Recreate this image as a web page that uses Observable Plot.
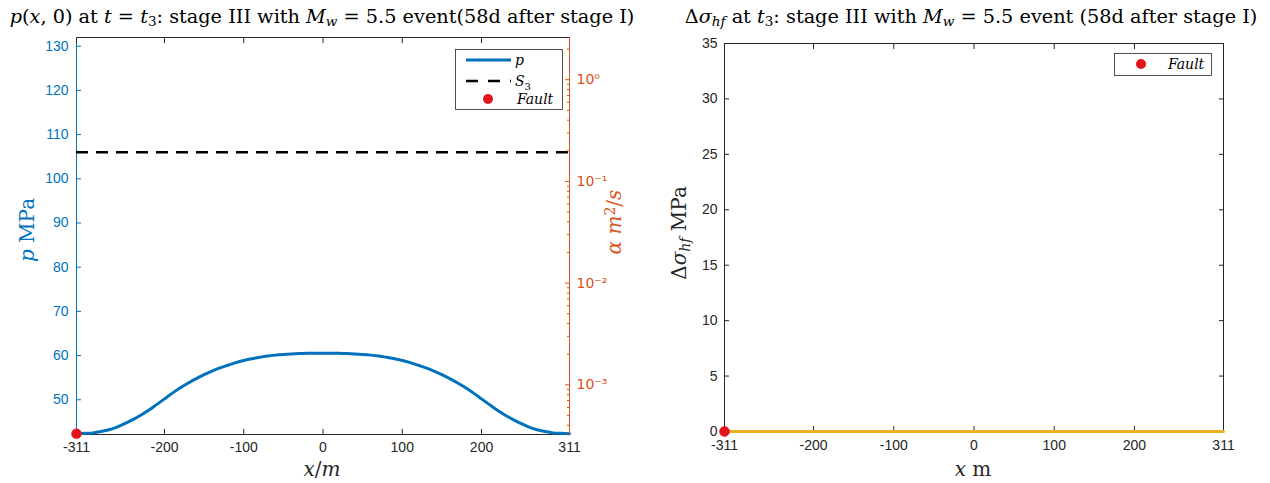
<!DOCTYPE html>
<html>
<head>
<meta charset="utf-8">
<script src="https://cdn.jsdelivr.net/npm/d3@7"></script>
<script src="https://cdn.jsdelivr.net/npm/@observablehq/plot@0.6"></script>
<style>
  html, body { margin: 0; padding: 0; background: #fff; }
  #wrap { position: relative; width: 1270px; height: 483px; overflow: hidden; background: #fff; }
  .abs { position: absolute; }
  .ttl { font-family: "DejaVu Serif", serif; font-size: 19.3px; line-height: 19px; color: #000; white-space: nowrap; transform: translateX(-50%); }
  .lab { font-family: "DejaVu Serif", serif; font-size: 20px; line-height: 20px; white-space: nowrap; }
  .rot { transform: translate(-50%, -50%) rotate(-90deg); }
  .ctr { transform: translate(-50%, -50%); }
  sub { font-size: 0.7em; vertical-align: -0.25em; line-height: 0; }
  sup { font-size: 0.7em; vertical-align: 0.45em; line-height: 0; }
</style>
</head>
<body>
<div id="wrap"></div>
<script>
// ---------- data ----------
const xTicks = [-311, -200, -100, 0, 100, 200, 311];
const xDomain = [-311, 311];

// pressure profile p(x,0), MPa
const pX = [-311, -300, -290, -280, -270, -260, -250, -240, -230, -220, -210, -200, -190, -180, -170, -160, -150, -140, -130, -120, -110, -100, -90, -80, -70, -60, -50, -40, -30, -20, -10, 0,
            10, 20, 30, 40, 50, 60, 70, 80, 90, 100, 110, 120, 130, 140, 150, 160, 170, 180, 190, 200, 210, 220, 230, 240, 250, 260, 270, 280, 290, 300, 311];
const pVal = [42.3, 42.4, 42.5, 42.8, 43.2, 43.8, 44.6, 45.5, 46.5, 47.6, 48.9, 50.2, 51.5, 52.7, 53.8, 54.8, 55.7, 56.5, 57.2, 57.8, 58.4, 58.9, 59.3, 59.6, 59.9, 60.1, 60.25, 60.37, 60.45, 60.5, 60.53, 60.54,
              60.53, 60.5, 60.45, 60.37, 60.25, 60.1, 59.9, 59.6, 59.3, 58.9, 58.4, 57.8, 57.2, 56.5, 55.7, 54.8, 53.8, 52.7, 51.5, 50.2, 48.9, 47.6, 46.5, 45.5, 44.6, 43.8, 43.2, 42.8, 42.5, 42.4, 42.3];
const S3 = 106;
const pTicks = [50, 60, 70, 80, 90, 100, 110, 120, 130];
const pDomain = [42.14, 131.97];

// alpha (right log axis), m^2/s
const alphaDomain = [3.25e-4, 2.6];
const alphaMajor = [1e-3, 1e-2, 1e-1, 1];
const alphaMinor = [4e-4, 5e-4, 6e-4, 7e-4, 8e-4, 9e-4,
                    2e-3, 3e-3, 4e-3, 5e-3, 6e-3, 7e-3, 8e-3, 9e-3,
                    2e-2, 3e-2, 4e-2, 5e-2, 6e-2, 7e-2, 8e-2, 9e-2,
                    2e-1, 3e-1, 4e-1, 5e-1, 6e-1, 7e-1, 8e-1, 9e-1, 2];

// Fault location
const faultX = [-311];
const faultP = [42.3];
const faultDs = [0];

// delta sigma_hf profile, MPa
const dsX = [-311, 311];
const dsVal = [0, 0];
const dsTicks = [0, 5, 10, 15, 20, 25, 30, 35];
const dsDomain = [0, 35];

// ---------- colours ----------
const BLUE = "#0072BD", ORANGE = "#D95319", YELLOW = "#EDB120", AX = "#262626", RED = "#E3141B";

const pData = pX.map((x, i) => ({x, y: pVal[i]}));
const fP = faultX.map((x, i) => ({x, y: faultP[i]}));
const fD = faultX.map((x, i) => ({x, y: faultDs[i]}));
const dsData = dsX.map((x, i) => ({x, y: dsVal[i]}));

const wrap = document.getElementById("wrap");
const tickFont = {fontFamily: "Liberation Sans, Arial, sans-serif", fontSize: "14px", background: "transparent", overflow: "visible"};
function place(el, left, top) { el.style.position = "absolute"; el.style.left = left + "px"; el.style.top = top + "px"; wrap.appendChild(el); }

const plain = d => String(d);
const supMap = {"-": "\u207B", "0": "\u2070", "1": "\u00B9", "2": "\u00B2", "3": "\u00B3"};
const supFmt = d => "10" + String(Math.round(Math.log10(d))).split("").map(c => supMap[c]).join("");

// ---------- left panel ----------
const L = {width: 640, height: 483, marginLeft: 76, marginRight: 71, marginTop: 37, marginBottom: 49};
const left = Plot.plot({
  ...L,
  style: tickFont,
  x: {domain: xDomain},
  y: {domain: pDomain},
  marks: [
    Plot.frame({anchor: "top", stroke: AX}),
    Plot.frame({anchor: "bottom", stroke: AX}),
    Plot.frame({anchor: "left", stroke: BLUE}),
    Plot.axisX(xTicks, {anchor: "bottom", tickSize: -5, tickPadding: 13, tickFormat: plain, label: null, color: AX}),
    Plot.axisX(xTicks, {anchor: "top", tickSize: -5, tickFormat: () => "", label: null, color: AX}),
    Plot.axisY(pTicks, {anchor: "left", tickSize: -5, tickPadding: 13, tickFormat: plain, label: null, color: BLUE}),
    Plot.ruleY([S3], {stroke: "#000", strokeWidth: 2.5, strokeDasharray: "12,8"}),
    Plot.line(pData, {x: "x", y: "y", stroke: BLUE, strokeWidth: 3, curve: "catmull-rom"}),
    Plot.dot(fP, {x: "x", y: "y", r: 5, fill: RED, stroke: RED, strokeWidth: 0.5})
  ]
});
place(left, 0, 0);

const leftR = Plot.plot({
  ...L,
  style: tickFont,
  x: {domain: xDomain, axis: null},
  y: {type: "log", domain: alphaDomain},
  marks: [
    Plot.frame({anchor: "right", stroke: ORANGE}),
    Plot.axisY(alphaMinor, {anchor: "right", tickSize: -3, tickFormat: () => "", label: null, color: ORANGE}),
    Plot.axisY(alphaMajor, {anchor: "right", tickSize: -5, tickPadding: 12, tickFormat: supFmt, label: null, color: ORANGE, fontFamily: "DejaVu Sans, sans-serif", fontSize: 14})
  ]
});
place(leftR, 0, 0);

// ---------- right panel ----------
const R = {width: 630, height: 483, marginLeft: 84, marginRight: 47, marginTop: 43, marginBottom: 52};
const right = Plot.plot({
  ...R,
  style: tickFont,
  x: {domain: xDomain},
  y: {domain: dsDomain},
  marks: [
    Plot.frame({stroke: AX}),
    Plot.axisX(xTicks, {anchor: "bottom", tickSize: -5, tickPadding: 14, tickFormat: plain, label: null, color: AX}),
    Plot.axisX(xTicks, {anchor: "top", tickSize: -5, tickFormat: () => "", label: null, color: AX}),
    Plot.axisY(dsTicks, {anchor: "left", tickSize: -5, tickPadding: 12, tickFormat: plain, label: null, color: AX}),
    Plot.axisY(dsTicks, {anchor: "right", tickSize: -5, tickFormat: () => "", label: null, color: AX}),
    Plot.line(dsData, {x: "x", y: "y", stroke: YELLOW, strokeWidth: 3}),
    Plot.dot(fD, {x: "x", y: "y", r: 5, fill: RED, stroke: RED, strokeWidth: 0.5})
  ]
});
place(right, 640, 0);

// ---------- texts ----------
function html(str, cls, left, top, extra) {
  const d = document.createElement("div");
  d.className = "abs " + cls;
  d.innerHTML = str;
  d.style.left = left + "px"; d.style.top = top + "px";
  if (extra) Object.assign(d.style, extra);
  wrap.appendChild(d);
  return d;
}
html('<i>p</i>(<i>x</i>, 0) at <i>t</i> = <i>t</i><sub>3</sub>: stage III with <i>M<sub>w</sub></i> = 5.5 event(58d after stage I)', "ttl", 322, 7);
html('&Delta;<i>&sigma;<sub>hf</sub></i> at <i>t</i><sub>3</sub>: stage III with <i>M<sub>w</sub></i> = 5.5 event (58d after stage I)', "ttl", 971, 7);
html('<i>p</i> MPa', "lab rot", 27, 230, {color: BLUE});
html('<i>&alpha;</i> <i>m</i><sup>2</sup>/<i>s</i>', "lab rot", 614, 222, {color: ORANGE});
html('<i>x</i>/<i>m</i>', "lab ctr", 322, 469, {color: AX});
html('&Delta;<i>&sigma;<sub>hf</sub></i> MPa', "lab rot", 679, 233, {color: AX});
html('<i>x</i> m', "lab ctr", 973, 469, {color: AX});

// ---------- legends ----------
const ns = "http://www.w3.org/2000/svg";
const lg = document.createElementNS(ns, "svg");
lg.setAttribute("width", 1270); lg.setAttribute("height", 483);
lg.style.position = "absolute"; lg.style.left = "0px"; lg.style.top = "0px";
lg.innerHTML = `
  <rect x="455.5" y="49.5" width="107" height="60" fill="#fff" stroke="${AX}" stroke-width="0.8"/>
  <line x1="466" x2="511" y1="60" y2="60" stroke="${BLUE}" stroke-width="3"/>
  <line x1="466" x2="511" y1="81" y2="81" stroke="#000" stroke-width="2.5" stroke-dasharray="12,10"/>
  <circle cx="488" cy="99" r="5" fill="${RED}"/>
  <text x="515" y="65" font-family="DejaVu Serif" font-style="italic" font-size="14">p</text>
  <text x="515" y="86" font-family="DejaVu Serif" font-style="italic" font-size="14">S<tspan font-style="normal" font-size="10" dy="4">3</tspan></text>
  <text x="517" y="104" font-family="DejaVu Serif" font-style="italic" font-size="14">Fault</text>
  <rect x="1114.5" y="53.5" width="97" height="22" fill="#fff" stroke="${AX}" stroke-width="0.8"/>
  <circle cx="1141" cy="64" r="5" fill="${RED}"/>
  <text x="1168" y="69" font-family="DejaVu Serif" font-style="italic" font-size="14">Fault</text>
`;
wrap.appendChild(lg);
</script>
</body>
</html>
